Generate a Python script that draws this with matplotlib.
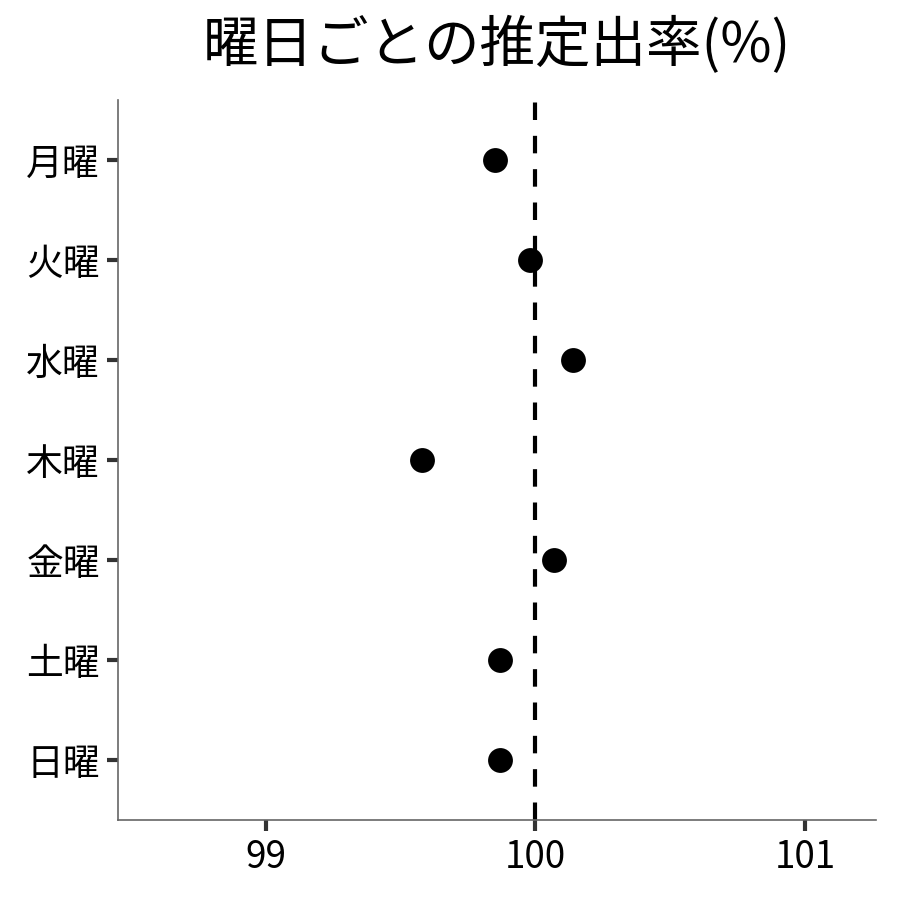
import matplotlib
matplotlib.use("Agg")
import matplotlib.pyplot as plt

plt.rcParams["font.family"] = ["Noto Sans CJK JP", "DejaVu Sans"]

days = ["月曜", "火曜", "水曜", "木曜", "金曜", "土曜", "日曜"]
rate = [99.85, 99.98, 100.14, 99.58, 100.07, 99.87, 99.87]
ref_value = 100
xticks = [99, 100, 101]

fig = plt.figure(figsize=(9, 9), dpi=100)
ax = fig.add_axes([0.131, 0.089, 0.842, 0.8])

ypos = list(range(len(days)))
ax.axvline(ref_value, color="black", lw=3, linestyle=(0, (4.2, 3.8)), zorder=1)
ax.scatter(rate, ypos, s=320, color="black", zorder=3, linewidths=0)

ax.set_xlim(98.45, 101.263)
ax.set_ylim(len(days) - 1 + 0.6, -0.6)
ax.set_yticks(ypos)
ax.set_yticklabels(days)
ax.set_xticks(xticks)
ax.set_xticklabels([str(x) for x in xticks])

for side in ["top", "right"]:
    ax.spines[side].set_visible(False)
for side in ["left", "bottom"]:
    ax.spines[side].set_color("#666666")
    ax.spines[side].set_linewidth(1.2)
ax.tick_params(axis="both", direction="out", length=8, width=3, color="#333333",
               labelsize=26.5, labelcolor="black", pad=5)

ax.set_title("曜日ごとの推定出率(%)", fontsize=40, pad=27)

fig.savefig("out.png", dpi=100, facecolor="white")
